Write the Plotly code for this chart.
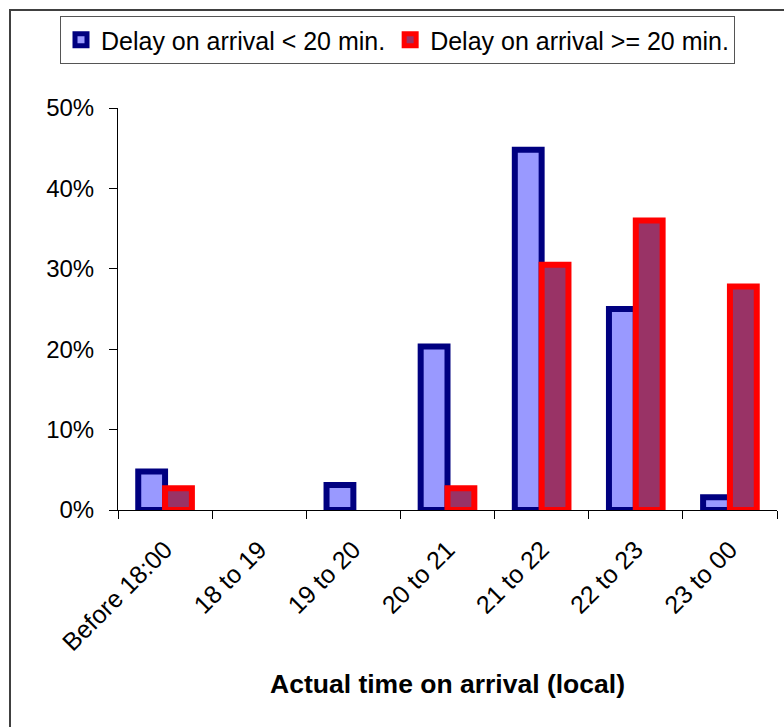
import plotly.graph_objects as go

categories = ["Before 18:00", "18 to 19", "19 to 20", "20 to 21", "21 to 22", "22 to 23", "23 to 00"]
delay_under_20 = [0.048, None, 0.031, 0.2035, 0.448, 0.250, 0.016]
delay_over_20 = [0.027, None, None, 0.027, 0.305, 0.360, 0.278]
series_names = ["Delay on arrival < 20 min.", "Delay on arrival >= 20 min."]
y_ticks = [0, 0.1, 0.2, 0.3, 0.4, 0.5]
y_tick_labels = ["0%", "10%", "20%", "30%", "40%", "50%"]

FONT = "Liberation Sans, Arial, sans-serif"

# plot area in pixels
W, H = 784, 727
L, R, T, B = 118, 7, 108, 217
pw = W - L - R
ph = H - T - B

def px_x(px):
    return (px - L) / pw

def px_y(py):
    return (H - B - py) / ph

fig = go.Figure()
fig.add_trace(go.Bar(
    x=categories, y=delay_under_20, name=series_names[0],
    marker=dict(color="#9999FF", line=dict(color="#000080", width=6)),
))
fig.add_trace(go.Bar(
    x=categories, y=delay_over_20, name=series_names[1],
    marker=dict(color="#993366", line=dict(color="#FF0000", width=6)),
))

fig.update_layout(
    width=W, height=H,
    margin=dict(l=L, r=R, t=T, b=B, autoexpand=False),
    paper_bgcolor="white", plot_bgcolor="white",
    barmode="group", bargap=0.43, bargroupgap=0,
    font=dict(family=FONT, color="black"),
    showlegend=True,
    legend=dict(
        orientation="h",
        x=px_x(60), xanchor="left",
        y=px_y(16), yanchor="top",
        bordercolor="#555555", borderwidth=1,
        bgcolor="white",
        font=dict(family=FONT, size=25, color="black"),
        itemwidth=30,
        traceorder="normal",
    ),
    xaxis=dict(
        type="category",
        showline=True, linecolor="black", linewidth=1,
        ticks="outside", ticklen=8, tickcolor="black",
        tickson="boundaries",
        tickangle=-45,
        ticklabelstandoff=14,
        tickfont=dict(family=FONT, size=25, color="black"),
        showgrid=False, zeroline=False,
        title=dict(text="<b>Actual time on arrival (local)</b>",
                   font=dict(family=FONT, size=26.5, color="black"), standoff=19),
    ),
    yaxis=dict(
        range=[0, 0.5],
        tickvals=y_ticks, ticktext=y_tick_labels,
        showline=True, linecolor="black", linewidth=1,
        ticks="outside", ticklen=8, tickcolor="black",
        ticklabelstandoff=10,
        tickfont=dict(family=FONT, size=24, color="black"),
        showgrid=False, zeroline=False,
    ),
    shapes=[dict(
        type="rect", xref="paper", yref="paper",
        x0=px_x(10), x1=px_x(800), y0=px_y(760), y1=px_y(10),
        line=dict(color="#404040", width=2), fillcolor="rgba(0,0,0,0)", layer="below",
    )],
)

fig.write_html(
    "out.html",
    config={"displayModeBar": False},
    post_script="document.body.style.margin='0';document.body.style.overflow='hidden';",
)
